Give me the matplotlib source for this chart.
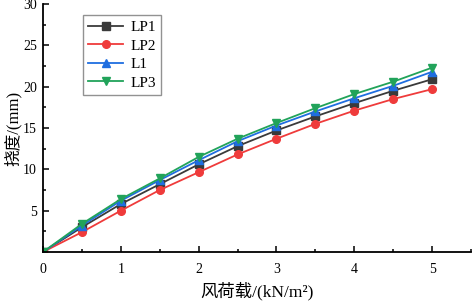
import matplotlib
matplotlib.use("Agg")
import matplotlib.pyplot as plt
from matplotlib.ticker import MultipleLocator

FONTS = ["Liberation Serif", "Noto Sans CJK SC", "DejaVu Sans"]
plt.rcParams["font.family"] = FONTS

# wind load (kN/m^2) and deflection (mm)
load = [0, 0.5, 1, 1.5, 2, 2.5, 3, 3.5, 4, 4.5, 5]
lp1 = [0, 3.0, 5.8, 8.2, 10.6, 12.8, 14.7, 16.4, 18.0, 19.5, 20.9]
lp2 = [0, 2.4, 5.0, 7.5, 9.65, 11.8, 13.7, 15.5, 17.1, 18.5, 19.7]
l1 = [0, 3.2, 6.2, 8.7, 11.1, 13.4, 15.3, 17.0, 18.6, 20.1, 21.8]
lp3 = [0, 3.4, 6.4, 8.9, 11.5, 13.7, 15.6, 17.4, 19.1, 20.6, 22.3]

series = [
    ("LP1", lp1, "#3a3a3a", "s"),
    ("LP2", lp2, "#ef3b3b", "o"),
    ("L1", l1, "#1f6ee0", "^"),
    ("LP3", lp3, "#21a35a", "v"),
]

fig = plt.figure(figsize=(4.72, 3.03), dpi=100)
ax = fig.add_axes([43 / 472, 51 / 303, 428 / 472, 248 / 303])

for name, vals, color, marker in series:
    ax.plot(load, vals, color=color, marker=marker, markersize=5.5,
            linewidth=1.3, label=name)

ax.set_xlim(0, 5.5)
ax.set_ylim(0, 30)
ax.set_xticks([0, 1, 2, 3, 4, 5])
ax.set_yticks([5, 10, 15, 20, 25, 30])
ax.xaxis.set_minor_locator(MultipleLocator(0.5))
ax.yaxis.set_minor_locator(MultipleLocator(2.5))
ax.tick_params(which="major", direction="in", length=4.5, width=1.1, labelsize=10)
ax.tick_params(which="minor", direction="in", length=2.2, width=1.1)
ax.tick_params(axis="x", which="major", pad=8)
ax.tick_params(axis="y", which="major", pad=4.5)

for side in ("top", "right"):
    ax.spines[side].set_visible(False)
for side in ("left", "bottom"):
    ax.spines[side].set_linewidth(1.3)

# unicode superscript instead of mathtext so the CJK fallback still works
ax.set_xlabel("风荷载/(kN/m²)", fontsize=12.5, labelpad=4, family=FONTS)
ax.set_ylabel("挠度/(mm)", fontsize=12, labelpad=1, family=FONTS)

leg = ax.legend(loc="upper left", bbox_to_anchor=(0.093, 0.956), fontsize=11,
                frameon=True, fancybox=False, edgecolor="#777777",
                handlelength=2.3, handletextpad=0.45, labelspacing=0.32,
                borderpad=0.35, borderaxespad=0)
leg.get_frame().set_linewidth(1.0)

fig.savefig("out.png", dpi=100)
